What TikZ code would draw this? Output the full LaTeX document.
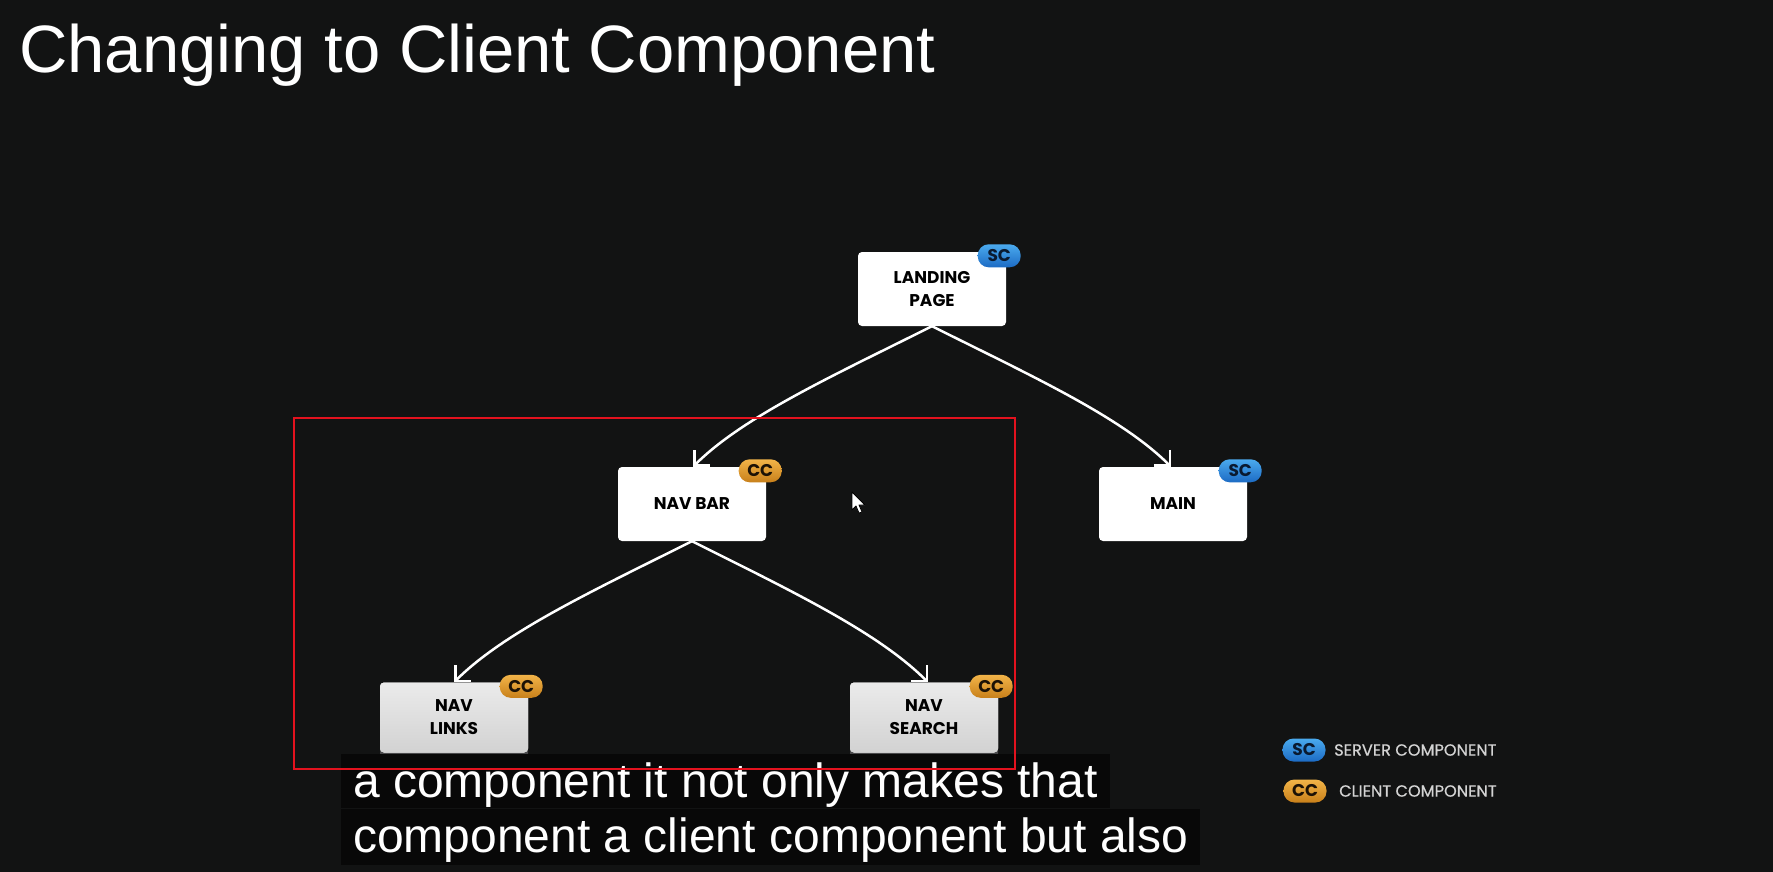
\documentclass[tikz,border=0pt]{standalone}
\usepackage{fontspec}
\setmainfont{Liberation Sans}
\newfontfamily\popfont{Poppins}
\newfontfamily\popmed[FakeBold=0.6]{Poppins}
\usetikzlibrary{arrows.meta,shadows}
\definecolor{bgc}{HTML}{121313}
\definecolor{capbg}{HTML}{080808}
\definecolor{scTop}{HTML}{4AAAEE}
\definecolor{scBot}{HTML}{1C6BC4}
\definecolor{scText}{HTML}{0A1A30}
\definecolor{ccTop}{HTML}{F2B448}
\definecolor{ccBot}{HTML}{C8801A}
\definecolor{ccText}{HTML}{1C1206}
\definecolor{grayTop}{HTML}{EBEBEB}
\definecolor{grayBot}{HTML}{D2D2D2}
\definecolor{shadowgray}{HTML}{4A4A4C}
\definecolor{legtext}{HTML}{D4D4D4}
\definecolor{redline}{HTML}{E3121E}
\begin{document}
\begin{tikzpicture}[x=1pt,y=-1pt,
  box/.style={fill=white, rounded corners=4pt, minimum width=148pt, minimum height=74pt,
    inner sep=0pt, align=center, text=black, font=\popfont\bfseries\fontsize{17}{23}\selectfont},
  graybox/.style={box, minimum height=70pt, top color=grayTop, bottom color=grayBot,
    drop shadow={shadow xshift=0pt, shadow yshift=-5pt, fill=shadowgray, opacity=1}},
  badge/.style={rounded corners=11pt, minimum width=43pt, minimum height=23pt, inner sep=0pt,
    font=\popfont\bfseries\fontsize{17}{17}\selectfont},
  scb/.style={badge, top color=scTop, bottom color=scBot, text=scText},
  ccb/.style={badge, top color=ccTop, bottom color=ccBot, text=ccText},
  link/.style={draw=white, line width=2.5pt, -{Straight Barb[length=11pt,width=22pt]}},
  capline/.style={fill=capbg, inner xsep=12pt, inner ysep=0pt, text=white,
    font=\fontsize{48}{48}\selectfont},
  legend/.style={anchor=west, inner sep=0pt, text=legtext, font=\popmed\fontsize{16.2}{16.2}\selectfont}
]
\useasboundingbox (0,0) rectangle (1773,872);
\fill[bgc] (0,0) rectangle (1773,872);

% title
\node[anchor=base west, inner sep=0pt, text=white, font=\fontsize{67}{78}\selectfont] (title) at (19,73) {Changing to Client Component};

% boxes
\node[box] (landing) at (932,289) {LANDING\\PAGE};
\node[box] (navbar) at (692,504) {NAV BAR};
\node[box] (main) at (1173,504) {MAIN};
\node[graybox] (navlinks) at (454,717.5) {NAV\\LINKS};
\node[graybox] (navsearch) at (924,717.5) {NAV\\SEARCH};

% badges
\node[scb] (b1) at ([shift={(-7,4)}]landing.north east) {SC};
\node[ccb] (b2) at ([shift={(-6,4)}]navbar.north east) {CC};
\node[scb] (b3) at ([shift={(-7,4)}]main.north east) {SC};
\node[ccb] (b4) at ([shift={(-7,4)}]navlinks.north east) {CC};
\node[ccb] (b5) at ([shift={(-7,4)}]navsearch.north east) {CC};

% connectors
\draw[link] (landing.south) .. controls +(-100,50) and +(50,-50) .. ([xshift=1pt]navbar.north);
\draw[link] (landing.south) .. controls +(100,50) and +(-50,-50) .. ([xshift=-2pt]main.north);
\draw[link] (navbar.south) .. controls +(-100,50) and +(50,-50) .. (navlinks.north);
\draw[link] (navbar.south) .. controls +(100,50) and +(-50,-50) .. ([xshift=4pt]navsearch.north);

% cursor
\draw[black, fill=white, line width=0.8pt, line join=round]
  (852,492) -- (852,510) -- (856,506) -- (859,513) -- (862,512) -- (859,505) -- (865,505) -- cycle;

% legend
\node[scb] (lsc) at (1304,750) {SC};
\node[legend] (lsctext) at (1334,750) {SERVER COMPONENT};
\node[ccb] (lcc) at (1305,791) {CC};
\node[legend] (lcctext) at (1339,791) {CLIENT COMPONENT};

% captions
\node[capline, anchor=base west, text height=43pt, text depth=11pt] (cap1) at (341,797) {a component it not only makes that};
\node[capline, anchor=base west, text height=43pt, text depth=13pt] (cap2) at (341,852) {component a client component but also};

% red selection rectangle
\draw[redline, line width=2pt] (294,418) rectangle (1015,769);
\end{tikzpicture}
\end{document}
